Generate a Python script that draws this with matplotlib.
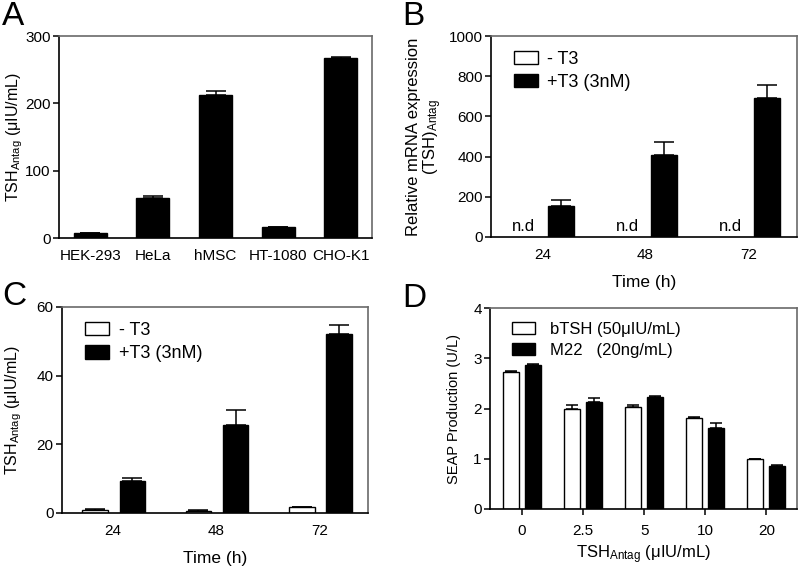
import matplotlib
matplotlib.use("Agg")
import matplotlib.pyplot as plt
import numpy as np
from matplotlib.patches import Patch

plt.rcParams['font.family'] = ['Liberation Sans', 'DejaVu Sans']
plt.rcParams['mathtext.fontset'] = 'custom'
plt.rcParams['mathtext.rm'] = 'Liberation Sans'
plt.rcParams['mathtext.it'] = 'Liberation Sans:italic'
plt.rcParams['font.size'] = 11

# ---- data ----
A_cells = ['HEK-293', 'HeLa', 'hMSC', 'HT-1080', 'CHO-K1']
A_vals = [7, 60, 213, 17, 268]
A_err = [0, 2, 6, 0, 1]

B_times = ['24', '48', '72']
B_plus = [154, 406, 693]
B_plus_err = [32, 67, 65]

C_times = ['24', '48', '72']
C_minus = [0.9, 0.7, 1.7]
C_minus_err = [0.15, 0.15, 0.1]
C_plus = [9.4, 25.5, 52.0]
C_plus_err = [0.8, 4.5, 2.8]

D_conc = ['0', '2.5', '5', '10', '20']
D_btsh = [2.72, 2.00, 2.03, 1.81, 0.99]
D_btsh_err = [0.03, 0.06, 0.03, 0.02, 0.01]
D_m22 = [2.87, 2.12, 2.23, 1.62, 0.86]
D_m22_err = [0.02, 0.08, 0.01, 0.09, 0.02]

W, H = 800, 570
fig = plt.figure(figsize=(8, 5.7), dpi=100)

def rect(l, r, t, b):
    return [l / W, (H - b) / H, (r - l) / W, (b - t) / H]

GRAY = '#6a6a6a'
TICK_FS = 11

def style(ax, xticks=False):
    for s in ['top', 'right']:
        ax.spines[s].set_color(GRAY)
        ax.spines[s].set_linewidth(1.2)
    for s in ['left', 'bottom']:
        ax.spines[s].set_color('black')
        ax.spines[s].set_linewidth(1.2)
    ax.tick_params(axis='y', direction='out', length=4.5, width=1.1, labelsize=TICK_FS, pad=1.5)
    if xticks:
        ax.tick_params(axis='x', direction='out', length=4.5, width=1.1, labelsize=TICK_FS, pad=6)
    else:
        ax.tick_params(axis='x', length=0, labelsize=TICK_FS, pad=8)

def bars(ax, x, vals, errs, face, width, capsize):
    ax.bar(x, vals, width=width, color=face, edgecolor='black', linewidth=1.0, zorder=2)
    if errs is not None:
        ax.errorbar(x, vals, yerr=[np.zeros(len(vals)), errs], fmt='none',
                    ecolor='black', elinewidth=1.1, capsize=capsize, capthick=1.1, zorder=3)

def legend(ax, handles, fs, tp):
    ax.legend(handles=handles, loc='upper left', bbox_to_anchor=(0.04, 0.98), frameon=False,
              fontsize=fs, handlelength=1.35, handleheight=0.75, handletextpad=tp,
              labelspacing=0.35, borderaxespad=0.2)

# ---- Panel A ----
axA = fig.add_axes(rect(59, 372, 36, 238))
xA = np.arange(len(A_cells))
bars(axA, xA, A_vals, A_err, 'black', 0.53, 7)
axA.set_xlim(-0.5, 4.5)
axA.set_ylim(0, 300)
axA.set_yticks([0, 100, 200, 300])
axA.set_xticks(xA)
axA.set_xticklabels(A_cells)
axA.set_ylabel(r'TSH$_{\mathrm{Antag}}$ (μIU/mL)', fontsize=11.5)
axA.yaxis.set_label_coords(-0.108, 0.5)
style(axA)

# ---- Panel B ----
axB = fig.add_axes(rect(491, 797, 36, 237))
xB = np.arange(len(B_times))
bars(axB, xB + 0.18, B_plus, B_plus_err, 'black', 0.25, 7)
for xi in xB:
    axB.text(xi - 0.18, 15, 'n.d', ha='center', va='bottom', fontsize=12)
axB.set_xlim(-0.5, 2.47)
axB.set_ylim(0, 1000)
axB.set_yticks([0, 200, 400, 600, 800, 1000])
axB.set_xticks(xB)
axB.set_xticklabels(B_times)
axB.set_xlabel('Time (h)', fontsize=12.5, labelpad=9)
axB.set_ylabel('Relative mRNA expression\n' + r'(TSH)$_{\mathrm{Antag}}$', fontsize=12,
               labelpad=3, linespacing=1.05)
style(axB)
hB = [Patch(facecolor='white', edgecolor='black', linewidth=1.0, label='- T3'),
      Patch(facecolor='black', edgecolor='black', linewidth=1.0, label='+T3 (3nM)')]
legend(axB, hB, 13, 0.45)

# ---- Panel C ----
axC = fig.add_axes(rect(62, 368, 307, 513))
xC = np.arange(len(C_times))
bars(axC, xC - 0.17, C_minus, C_minus_err, 'white', 0.245, 7)
bars(axC, xC + 0.19, C_plus, C_plus_err, 'black', 0.245, 7)
axC.set_xlim(-0.49, 2.47)
axC.set_ylim(0, 60)
axC.set_yticks([0, 20, 40, 60])
axC.set_xticks(xC)
axC.set_xticklabels(C_times)
axC.set_xlabel('Time (h)', fontsize=12.5, labelpad=9)
axC.set_ylabel(r'TSH$_{\mathrm{Antag}}$ (μIU/mL)', fontsize=11.5)
axC.yaxis.set_label_coords(-0.125, 0.5)
style(axC)
legend(axC, hB, 13, 0.55)

# ---- Panel D ----
axD = fig.add_axes(rect(490, 797, 308, 509))
xD = np.arange(len(D_conc))
bars(axD, xD - 0.18, D_btsh, D_btsh_err, 'white', 0.26, 4.5)
bars(axD, xD + 0.18, D_m22, D_m22_err, 'black', 0.26, 4.5)
axD.set_xlim(-0.52, 4.5)
axD.set_ylim(0, 4)
axD.set_yticks([0, 1, 2, 3, 4])
axD.set_xticks(xD)
axD.set_xticklabels(D_conc)
axD.set_xlabel(r'TSH$_{\mathrm{Antag}}$ (μIU/mL)', fontsize=12, labelpad=4)
axD.set_ylabel('SEAP Production (U/L)', fontsize=10.5, labelpad=9)
style(axD, xticks=True)
hD = [Patch(facecolor='white', edgecolor='black', linewidth=1.0, label='bTSH (50μIU/mL)'),
      Patch(facecolor='black', edgecolor='black', linewidth=1.0, label='M22   (20ng/mL)')]
legend(axD, hD, 12, 0.9)

# ---- panel letters ----
for lab, x, y in [('A', 2, 1), ('B', 402, 1), ('C', 2, 281), ('D', 402, 283)]:
    fig.text(x / W, 1 - y / H, lab, fontsize=24, ha='left', va='top')

fig.savefig('out.png', dpi=100)
